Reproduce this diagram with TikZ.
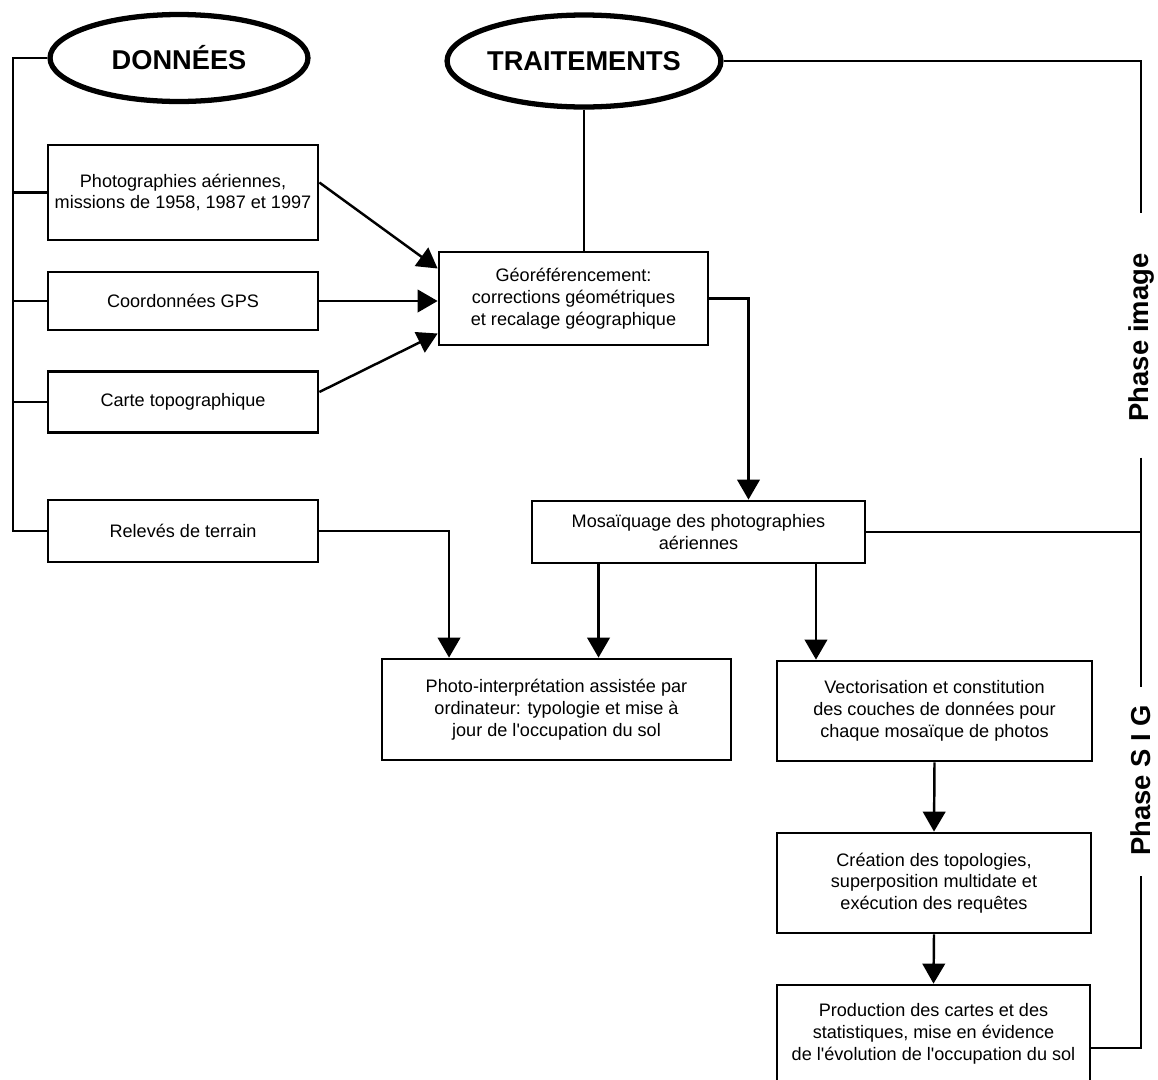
\documentclass[tikz,border=0pt]{standalone}
\usepackage{fontspec}
\setmainfont{Liberation Sans}
\usepackage{tikz}
\usetikzlibrary{shapes, arrows.meta}

\begin{document}
\begin{tikzpicture}[x=0.02cm, y=-0.02cm,
            box/.style={draw, rectangle, line width=1.6pt, inner sep=1pt, minimum width=5.4cm, align=center, font=\fontsize{10.3}{12.4}\selectfont},
            bubble/.style={draw, ellipse, line width=3pt, inner sep=0pt, font=\fontsize{15.5}{18}\selectfont\bfseries},
            phase/.style={rotate=90, inner sep=0pt, font=\fontsize{15.6}{18}\selectfont\bfseries},
            line/.style={line width=1.4pt},
            arr/.style={line width=1.4pt, -{Triangle[length=0.4cm, width=0.45cm]}}]
            \useasboundingbox (0,0) rectangle (1158,1079);

            % titres
            \node[bubble, minimum width=5.16cm, minimum height=1.74cm] (donnees) at (179,58) {DONNÉES};
            \node[bubble, minimum width=5.14cm, minimum height=1.84cm] (traitements) at (584,61) {TRAITEMENTS};

            % données
            \node[box, minimum height=1.9cm] (photos) at (183,192.5) {Photographies aériennes,\\missions de 1958, 1987 et 1997};
            \node[box, minimum height=1.16cm] (gps) at (183,301) {Coordonnées GPS};
            \node[box, minimum height=1.22cm] (carte) at (183,402) {Carte topographique};
            \node[box, minimum height=1.24cm] (releves) at (183,531) {Relevés de terrain};

            % traitements
            \node[box, minimum width=5.38cm, minimum height=1.86cm] (georef) at (573.5,298.5) {Géoréférencement:\\corrections géométriques\\et recalage géographique};
            \node[box, minimum width=6.66cm, minimum height=1.24cm] (mosaic) at (698.5,532) {Mosaïquage des photographies\\aériennes};
            \node[box, minimum width=6.98cm, minimum height=2.02cm] (interp) at (556.5,709.5) {Photo-interprétation assistée par\\ordinateur: typologie et mise à\\jour de l\textquotesingle occupation du sol};
            \node[box, minimum width=6.3cm, minimum height=2cm] (vecto) at (934.5,711) {Vectorisation et constitution\\des couches de données pour\\chaque mosaïque de photos};
            \node[box, minimum width=6.28cm, minimum height=2cm] (topo) at (934,883) {Création des topologies,\\superposition multidate et\\exécution des requêtes};
            \node[box, minimum width=6.26cm, minimum height=1.96cm] (prod) at (933.5,1034) {Production des cartes et des\\statistiques, mise en évidence\\de l\textquotesingle évolution de l\textquotesingle occupation du sol};

            % phases
            \node[phase] (phimage) at (1141,337.5) {Phase image};
            \node[phase] (phsig) at (1141,780.5) {Phase S I G};

            % accolade gauche
            \coordinate (spine) at (13,58);
            \draw[line] (donnees.west) -- (spine) |- (releves.west);
            \draw[line] (photos.west) -- (photos.west -| spine);
            \draw[line] (gps.west) -- (gps.west -| spine);
            \draw[line] (carte.west) -- (carte.west -| spine);

            % connexions
            \draw[arr] ([yshift=0.2cm]photos.east) -- ([yshift=0.6cm]georef.west);
            \draw[arr] (gps.east) -- (gps.east -| georef.west);
            \draw[arr] ([yshift=0.2cm]carte.east) -- ([yshift=-0.7cm]georef.west);
            \draw[line] (traitements.south) -- (traitements.south |- georef.north);
            \draw[arr] (georef.east) -| ([xshift=1cm]mosaic.north);
            \draw[arr] (releves.east) -| ([xshift=-2.15cm]interp.north);
            \draw[arr] ([xshift=-2cm]mosaic.south) -- ([xshift=-2cm]mosaic.south |- interp.north);
            \draw[arr] ([xshift=2.35cm]mosaic.south) -- ([xshift=2.35cm]mosaic.south |- vecto.north);
            \draw[arr] (vecto.south) -- (topo.north);
            \draw[arr] (topo.south) -- (prod.north);

            % accolade droite
            \draw[line, line width=1.2pt] (traitements.east) -| ([yshift=0.8cm]phimage.east);
            \draw[line, line width=1.2pt] ([yshift=-0.72cm]phimage.west) -- ([yshift=0.36cm]phsig.east);
            \draw[line, line width=1.2pt] (mosaic.east) -- (mosaic.east -| phsig.east);
            \draw[line, line width=1.2pt] ([yshift=-0.4cm]phsig.west) |- ([yshift=-0.28cm]prod.east);
        \end{tikzpicture}
\end{document}
